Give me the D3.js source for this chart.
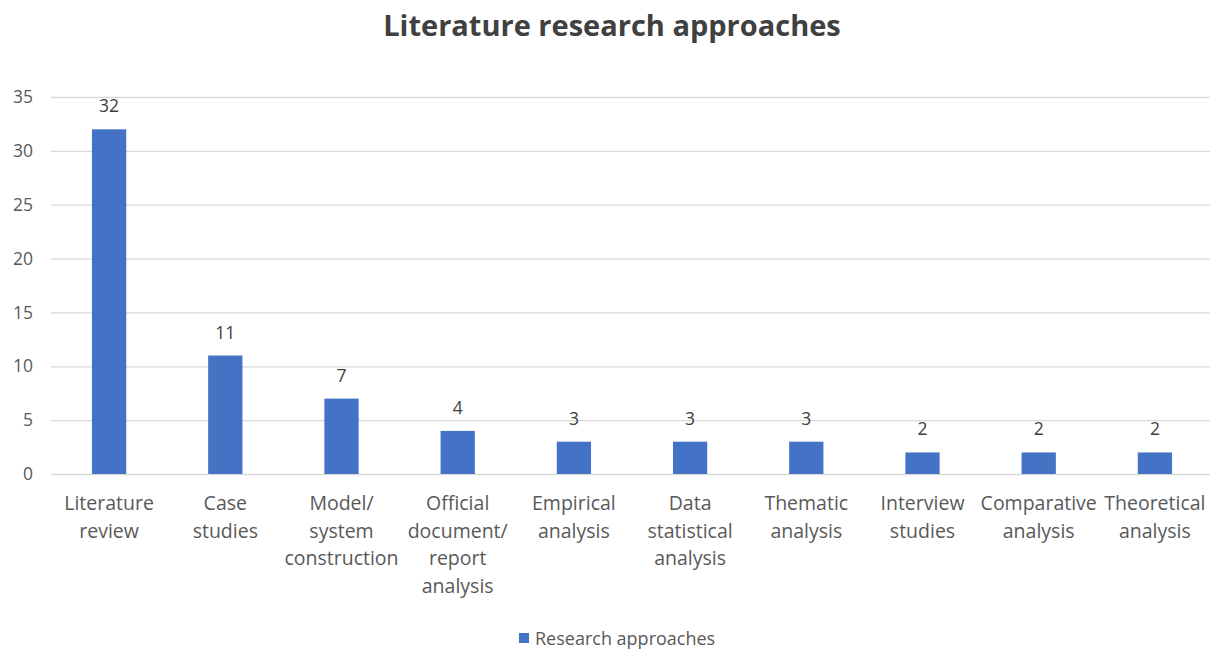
<!DOCTYPE html>
<html><head><meta charset="utf-8">
<script src="https://cdn.jsdelivr.net/npm/d3@7"></script>
<style>body{margin:0;background:#fff}svg{display:block}</style>
</head><body>
<svg id="c" width="1210" height="652"></svg>
<script>
const categories = [["Literature","review"],["Case","studies"],["Model/","system","construction"],["Official","document/","report","analysis"],["Empirical","analysis"],["Data","statistical","analysis"],["Thematic","analysis"],["Interview","studies"],["Comparative","analysis"],["Theoretical","analysis"]];
const values = [32,11,7,4,3,3,3,2,2,2];
const yTicks = [0,5,10,15,20,25,30,35];
const seriesName = "Research approaches";
const title = "Literature research approaches";

(function(){
const svg = d3.select("#c");
const font = "'Open Sans', sans-serif";
const pLeft = 51, pRight = 1213, pTop = 97, pBottom = 474;
const names = categories.map(c => c.join(" "));
const x = d3.scaleBand().domain(names).range([pLeft, pRight]).paddingInner(0.705).paddingOuter(0.3525);
const y = d3.scaleLinear().domain([0,35]).range([pBottom, pTop]);

svg.append("text").attr("x", 612).attr("y", 36).attr("text-anchor","middle")
  .attr("font-family", font).attr("font-weight","bold").attr("font-size", 29).attr("fill","#404040").text(title);

const ya = svg.append("g").attr("transform", `translate(${pLeft},0)`)
  .call(d3.axisLeft(y).tickValues(yTicks).tickSize(-(1210-pLeft)).tickPadding(18));
ya.select(".domain").remove();
ya.selectAll("line").attr("stroke","#d9d9d9").attr("stroke-width",1.3);
ya.selectAll("text").attr("font-family", font).attr("font-size", 17.5).attr("fill","#595959");

svg.selectAll("rect.bar").data(values).enter().append("rect").attr("class","bar")
  .attr("x",(d,i)=>x(names[i])).attr("width",x.bandwidth())
  .attr("y",d=>y(d)).attr("height",d=>y(0)-y(d)).attr("fill","#4472c4");

svg.selectAll("text.val").data(values).enter().append("text").attr("class","val")
  .attr("x",(d,i)=>x(names[i])+x.bandwidth()/2).attr("y",d=>y(d)-17)
  .attr("text-anchor","middle").attr("font-family",font).attr("font-size",17.5).attr("fill","#404040").text(d=>d);

const xa = svg.append("g").attr("transform",`translate(0,${pBottom})`).call(d3.axisBottom(x).tickSize(0).tickFormat(""));
xa.select(".domain").remove();
categories.forEach((lines,i)=>{
  const cx = x(names[i])+x.bandwidth()/2;
  const t = svg.append("text").attr("x", cx).attr("y", 510)
    .attr("text-anchor","middle").attr("font-family",font).attr("font-size",19.5).attr("fill","#595959");
  lines.forEach((l,j)=>t.append("tspan").attr("x", cx).attr("dy", j?27.5:0).text(l));
});

svg.append("rect").attr("x",519).attr("y",633).attr("width",10).attr("height",10).attr("fill","#4472c4");
svg.append("text").attr("x",535).attr("y",645).attr("font-family",font).attr("font-size",18).attr("fill","#595959").text(seriesName);
})();
</script>
</body></html>
